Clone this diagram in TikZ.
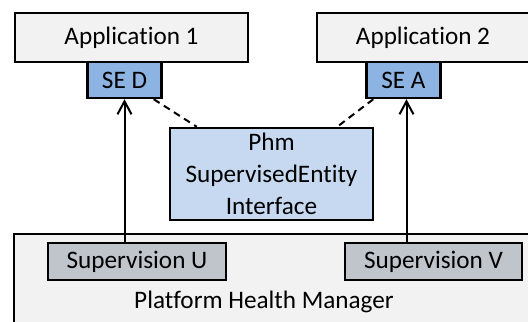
\documentclass[tikz,border=0pt]{standalone}
\usepackage{fontspec}
\setmainfont{Carlito}[Ligatures=NoCommon]
\usetikzlibrary{arrows.meta}
\definecolor{appgray}{HTML}{F2F2F2}
\definecolor{seblue}{HTML}{8DB3E2}
\definecolor{phmblue}{HTML}{C6D9F1}
\definecolor{supgray}{HTML}{C0C4CB}
\begin{document}
\begin{tikzpicture}[
    x=0.5pt, y=-0.5pt,
    every node/.style={font=\fontsize{12.6}{16}\selectfont},
    box/.style={draw, line width=1.2pt, inner sep=0pt, align=center},
    appbox/.style={box, fill=appgray, minimum height=24.5pt},
    sebox/.style={box, fill=seblue, minimum width=37pt, minimum height=18pt},
    supbox/.style={box, fill=supgray, minimum height=18.5pt},
    useedge/.style={-{Straight Barb[length=6.5pt,width=7pt]}, line width=1pt},
    dashedge/.style={line width=1pt, dash pattern=on 3.5pt off 2.5pt}
]
\useasboundingbox (0,0) rectangle (528,321);

% Plattform
\draw[line width=1.2pt, fill=appgray] (540,330) -- (14,330) -- (14,234) -- (540,234);
\node (phmtext) at (264,302) {Platform Health Manager};

\node[appbox, minimum width=116.5pt] (app1) at (131.5,37.5) {Application 1};
\node[appbox, minimum width=106pt] (app2) at (423,37.5) {Application 2};

\node[sebox] (sed) at (124.5,80) {SE D};
\node[sebox] (sea) at (403.5,80) {SE A};

\node[box, fill=phmblue, minimum width=101.5pt, minimum height=46pt] (phm) at (271.5,174)
    {Phm\\SupervisedEntity\\Interface};

\node[supbox, minimum width=89pt] (supu) at (137,261.5) {Supervision U};
\node[supbox, minimum width=88.5pt] (supv) at (433.5,261.5) {Supervision V};

% Verbindungen
\draw[useedge] (sed.south |- supu.north) -- (sed.south);
\draw[useedge] ([xshift=1.5pt]sea.south |- supv.north) -- ([xshift=1.5pt]sea.south);

\draw[dashedge] ([xshift=-4.5pt]sed.south east) -- ([xshift=14pt]phm.north west);
\draw[dashedge] ([xshift=4pt]sea.south west) -- ([xshift=-18.5pt]phm.north east);

\end{tikzpicture}
\end{document}
